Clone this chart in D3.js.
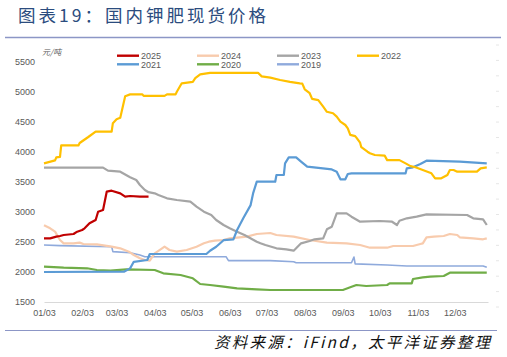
<!DOCTYPE html>
<html>
<head>
<meta charset="utf-8">
<script src="https://cdn.jsdelivr.net/npm/d3@7"></script>
<style>
html,body{margin:0;padding:0;background:#fff;}
svg{display:block;}
</style>
</head>
<body>
<svg id="chart" width="507" height="357"></svg>
<script>
const title = "图表19：国内钾肥现货价格";
const source = "资料来源：iFind，太平洋证券整理";
const unit = "元/吨";
const yTicks = [1500, 2000, 2500, 3000, 3500, 4000, 4500, 5000, 5500];
const xTickLabels = ["01-03","02-03","03-03","04-03","05-03","06-03","07-03","08-03","09-03","10-03","11-03","12-03"];
const seriesNames = ["2025","2024","2023","2022","2021","2020","2019"];
const seriesColors = ["#C00000","#F8CBAD","#A5A5A5","#FFC000","#5B9BD5","#70AD47","#8FAADC"];

const s2025 = [["01-03",2560],["01-08",2560],["01-13",2590],["01-16",2600],["01-19",2617],["01-27",2633],["01-30",2672],["02-03",2700],["02-05",2728],["02-09",2811],["02-14",2867],["02-16",3005],["02-20",3033],["02-23",3339],["02-27",3355],["03-06",3311],["03-10",3255],["03-14",3267],["03-22",3255],["03-29",3255]];
const s2024 = [["01-03",2780],["01-08",2728],["01-12",2672],["01-16",2533],["01-19",2478],["01-27",2478],["02-01",2489],["02-04",2467],["02-15",2461],["02-27",2422],["03-06",2395],["03-13",2339],["03-17",2283],["03-22",2228],["03-26",2200],["03-30",2189],["04-03",2311],["04-09",2395],["04-11",2422],["04-15",2367],["04-21",2339],["04-29",2367],["05-07",2422],["05-13",2478],["05-17",2505],["05-22",2522],["05-29",2533],["06-03",2561],["06-17",2589],["06-25",2633],["07-06",2650],["07-11",2617],["07-25",2589],["08-07",2533],["08-21",2489],["09-06",2478],["09-17",2450],["09-25",2405],["10-09",2405],["10-14",2433],["10-30",2433],["11-05",2467],["11-07",2478],["11-10",2578],["11-16",2589],["11-24",2600],["11-29",2633],["12-05",2617],["12-07",2578],["12-18",2561],["12-26",2545],["12-29",2561]];
const s2023 = [["01-03",3740],["02-20",3740],["02-24",3690],["03-06",3672],["03-14",3580],["03-19",3533],["03-22",3450],["03-26",3367],["03-29",3330],["04-03",3311],["04-06",3283],["04-13",3228],["04-21",3200],["05-02",3172],["05-07",3089],["05-13",3005],["05-19",2950],["05-23",2867],["05-29",2783],["06-03",2728],["06-09",2672],["06-15",2617],["06-25",2505],["06-28",2480],["07-02",2450],["07-11",2395],["07-19",2378],["07-25",2355],["07-27",2395],["07-31",2478],["08-07",2517],["08-11",2545],["08-18",2561],["08-21",2711],["08-25",2755],["08-29",2978],["09-06",2978],["09-10",2922],["09-17",2838],["10-03",2850],["10-13",2838],["10-17",2783],["10-19",2855],["10-25",2895],["11-02",2922],["11-10",2961],["12-13",2950],["12-18",2895],["12-26",2878],["12-29",2783]];
const s2022 = [["01-03",3810],["01-12",3860],["01-13",3910],["01-16",3920],["01-17",4110],["01-31",4110],["02-01",4150],["02-08",4250],["02-14",4340],["02-27",4340],["02-28",4480],["03-03",4545],["03-06",4570],["03-10",4930],["03-14",4960],["03-24",4960],["03-25",4935],["04-11",4935],["04-13",4960],["04-20",4960],["04-21",5005],["04-25",5145],["05-04",5170],["05-06",5230],["05-10",5295],["05-18",5320],["06-26",5320],["06-29",5260],["07-06",5240],["07-14",5200],["07-22",5170],["07-30",5145],["08-01",5140],["08-03",5045],["08-07",4980],["08-09",4885],["08-14",4865],["08-18",4755],["08-21",4670],["08-26",4645],["08-29",4590],["09-01",4505],["09-05",4450],["09-07",4395],["09-09",4285],["09-13",4265],["09-14",4240],["09-17",4155],["09-18",4080],["09-23",4005],["09-25",3980],["09-29",3950],["10-07",3940],["10-09",3865],["10-19",3865],["10-24",3810],["10-28",3765],["11-01",3745],["11-14",3645],["11-17",3562],["11-22",3562],["11-27",3617],["11-29",3700],["12-02",3700],["12-05",3672],["12-21",3672],["12-24",3728],["12-29",3745]];
const s2021 = [["01-03",2000],["03-09",2005],["03-14",2060],["03-17",2170],["03-28",2200],["03-30",2300],["05-15",2300],["05-18",2355],["05-23",2420],["05-29",2530],["06-06",2545],["06-09",2700],["06-14",2895],["06-20",3115],["06-22",3310],["06-25",3505],["07-10",3505],["07-11",3617],["07-17",3617],["07-18",3810],["07-21",3910],["07-27",3910],["07-31",3840],["08-05",3755],["08-25",3710],["08-29",3672],["09-01",3545],["09-05",3545],["09-07",3633],["09-10",3645],["10-24",3645],["10-25",3728],["10-30",3745],["11-05",3800],["11-10",3855],["12-07",3838],["12-29",3811]];
const s2020 = [["01-03",2089],["01-19",2072],["02-07",2062],["02-15",2033],["02-26",2022],["03-11",2045],["04-03",2033],["04-10",1978],["04-24",1950],["05-04",1895],["05-10",1800],["05-18",1783],["05-29",1755],["06-09",1728],["06-25",1711],["07-06",1700],["09-03",1700],["09-09",1745],["09-14",1783],["09-22",1767],["10-09",1783],["10-11",1811],["10-29",1811],["10-30",1883],["11-07",1911],["11-13",1922],["11-24",1933],["11-29",1989],["12-29",1989]];
const s2019 = [["01-03",2450],["01-16",2440],["02-27",2422],["02-28",2340],["03-14",2322],["03-22",2283],["03-26",2255],["05-31",2255],["06-02",2189],["07-06",2189],["07-25",2172],["07-27",2155],["09-10",2155],["09-12",2250],["09-13",2135],["10-09",2117],["10-25",2100],["12-26",2100],["12-29",2078]];

const seriesData = [s2025, s2024, s2023, s2022, s2021, s2020, s2019];

const parse = d3.timeParse("%Y-%m-%d");
const toDate = s => parse("2023-" + s);

const svg = d3.select("#chart");
const L = 44, R = 488, T = 62, B = 302;

const x = d3.scaleTime().domain([toDate("01-03"), toDate("12-30")]).range([L, R]);
const y = d3.scaleLinear().domain([1500, 5500]).range([B, T]);

const cjk = "'Noto Sans CJK SC','Noto Sans',sans-serif";
const latin = "'Liberation Sans',Arial,sans-serif";

// title
svg.append("text").attr("x", 18).attr("y", 22)
  .attr("font-family", cjk).attr("font-size", 17.5).attr("letter-spacing", 3.0)
  .attr("fill", "#2B4C7E").text(title);
svg.append("line").attr("x1", 5).attr("x2", 501).attr("y1", 37.5).attr("y2", 37.5)
  .attr("stroke", "#8C96C6").attr("stroke-width", 1.5);

// footer
svg.append("line").attr("x1", 5).attr("x2", 497).attr("y1", 330.5).attr("y2", 330.5)
  .attr("stroke", "#8C96C6").attr("stroke-width", 1.2);
svg.append("text").attr("x", 490).attr("y", 348).attr("text-anchor", "end")
  .attr("font-family", cjk).attr("font-size", 15.5).attr("font-style", "italic")
  .attr("fill", "#111").attr("textLength", 276).attr("lengthAdjust", "spacing")
  .text(source);

// right faint tick marks
const yr = d3.scaleLinear().domain([0, 17]).range([307, 45]);
svg.append("g").selectAll("line").data(d3.range(0, 18)).join("line")
  .attr("x1", 496).attr("x2", 499)
  .attr("y1", d => yr(d)).attr("y2", d => yr(d))
  .attr("stroke", "#E6E6E6").attr("stroke-width", 1);

// y axis
const yAxis = d3.axisLeft(y).tickValues(yTicks).tickSize(0).tickPadding(9).tickFormat(d3.format("d"));
const gy = svg.append("g").attr("transform", `translate(${L},0)`).call(yAxis);
gy.select(".domain").remove();
gy.selectAll("text").attr("font-family", latin).attr("font-size", 9).attr("fill", "#595959");

// x axis
const xAxis = d3.axisBottom(x).tickValues(xTickLabels.map(toDate)).tickSize(0).tickPadding(8)
  .tickFormat(d3.timeFormat("%m/%d"));
const gx = svg.append("g").attr("transform", `translate(0,${B})`).call(xAxis);
gx.select(".domain").attr("stroke", "#D9D9D9").attr("stroke-width", 1);
gx.selectAll("text").attr("font-family", latin).attr("font-size", 9).attr("fill", "#595959");

// unit
svg.append("text").attr("x", 42).attr("y", 55)
  .attr("font-family", cjk).attr("font-size", 8).attr("font-style", "italic")
  .attr("fill", "#595959").text(unit);

// lines (older first so 2025 on top)
const line = d3.line().x(d => x(toDate(d[0]))).y(d => y(d[1]));
const order = [6, 5, 1, 2, 4, 3, 0];
order.forEach(i => {
  svg.append("path").datum(seriesData[i])
    .attr("d", line).attr("fill", "none")
    .attr("stroke", seriesColors[i])
    .attr("stroke-width", i === 6 ? 1.6 : 2.2)
    .attr("stroke-linejoin", "round");
});

// legend
const legend = svg.append("g");
seriesNames.forEach((n, i) => {
  const col = i % 4, row = Math.floor(i / 4);
  const lx = 117 + col * 80, ly = 55.7 + row * 8.6;
  legend.append("line").attr("x1", lx).attr("x2", lx + 22).attr("y1", ly).attr("y2", ly)
    .attr("stroke", seriesColors[i]).attr("stroke-width", 2.4);
  legend.append("text").attr("x", lx + 24).attr("y", ly + 3.2)
    .attr("font-family", latin).attr("font-size", 9).attr("fill", "#595959").text(n);
});
</script>
</body>
</html>
